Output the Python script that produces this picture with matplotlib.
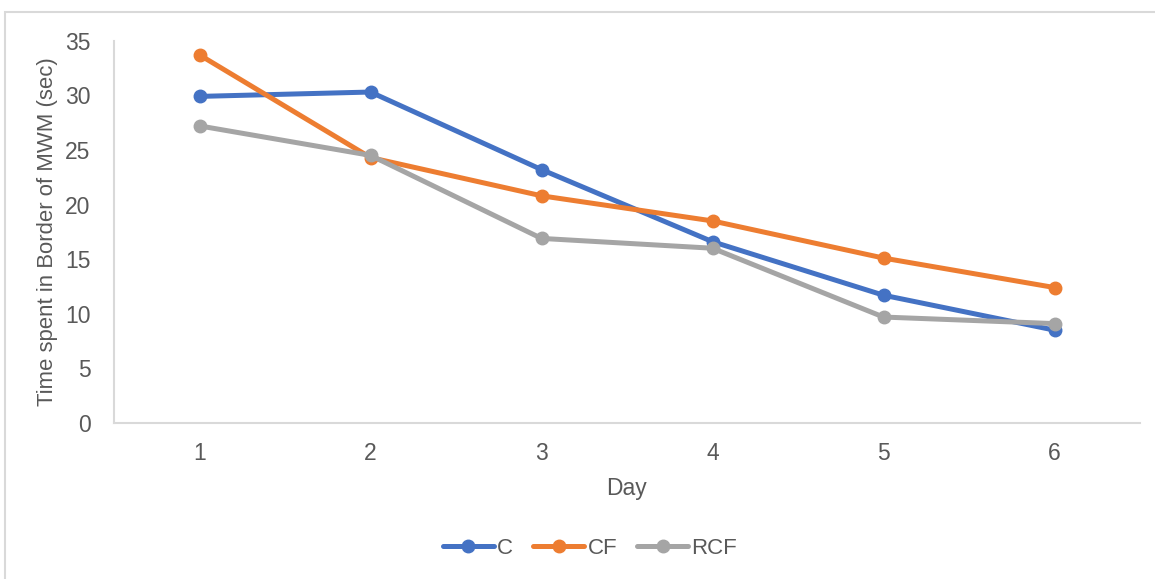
import matplotlib
matplotlib.use("Agg")
import matplotlib.pyplot as plt
from matplotlib.patches import Rectangle

plt.rcParams['font.family'] = ['Liberation Sans', 'DejaVu Sans']

days = [1, 2, 3, 4, 5, 6]
day_labels = ['1', '2', '3', '4', '5', '6']
c_vals = [29.9, 30.3, 23.2, 16.6, 11.7, 8.5]
cf_vals = [33.7, 24.3, 20.8, 18.5, 15.1, 12.4]
rcf_vals = [27.2, 24.5, 16.9, 16.0, 9.7, 9.1]
series_names = ['C', 'CF', 'RCF']
colors = ['#4472C4', '#ED7D31', '#A5A5A5']

FS = 16.5
W, H = 1155, 579
fig = plt.figure(figsize=(W / 100, H / 100), dpi=100)
ax = fig.add_axes([114 / W, 1 - 423 / H, (1140 - 114) / W, (423 - 40.7) / H])

for vals, name, col in zip([c_vals, cf_vals, rcf_vals], series_names, colors):
    ax.plot(days, vals, color=col, lw=3.6, marker='o', markersize=9,
            label=name, solid_capstyle='round', solid_joinstyle='round')

ax.set_xlim(0.5, 6.5)
ax.set_ylim(0, 35)
ax.set_yticks(range(0, 36, 5))
ax.set_xticks(days)
ax.set_xticklabels(day_labels)
for s in ['top', 'right']:
    ax.spines[s].set_visible(False)
for s in ['left', 'bottom']:
    ax.spines[s].set_color('#D9D9D9')
    ax.spines[s].set_linewidth(1.5)
ax.tick_params(axis='both', length=0, labelsize=FS, colors='#595959')
ax.tick_params(axis='y', pad=17)
ax.tick_params(axis='x', pad=14)

ax.set_xlabel('Day', fontsize=FS, color='#595959', labelpad=8)
ax.set_ylabel('Time spent in Border of MWM (sec)', fontsize=15.9, color='#595959', labelpad=5)

leg = fig.legend(loc='center', bbox_to_anchor=(590 / W, 1 - 548 / H), ncol=3,
                 frameon=False, fontsize=16, handlelength=2.3, handletextpad=0.15,
                 columnspacing=0.9, labelcolor='#595959')

fig.patches.append(Rectangle((5 / W, -0.1), 1.2, 1 - 12 / H + 0.1,
                             transform=fig.transFigure, fill=False,
                             edgecolor='#D9D9D9', lw=1.5))

fig.savefig('out.png', dpi=100, facecolor='white')
